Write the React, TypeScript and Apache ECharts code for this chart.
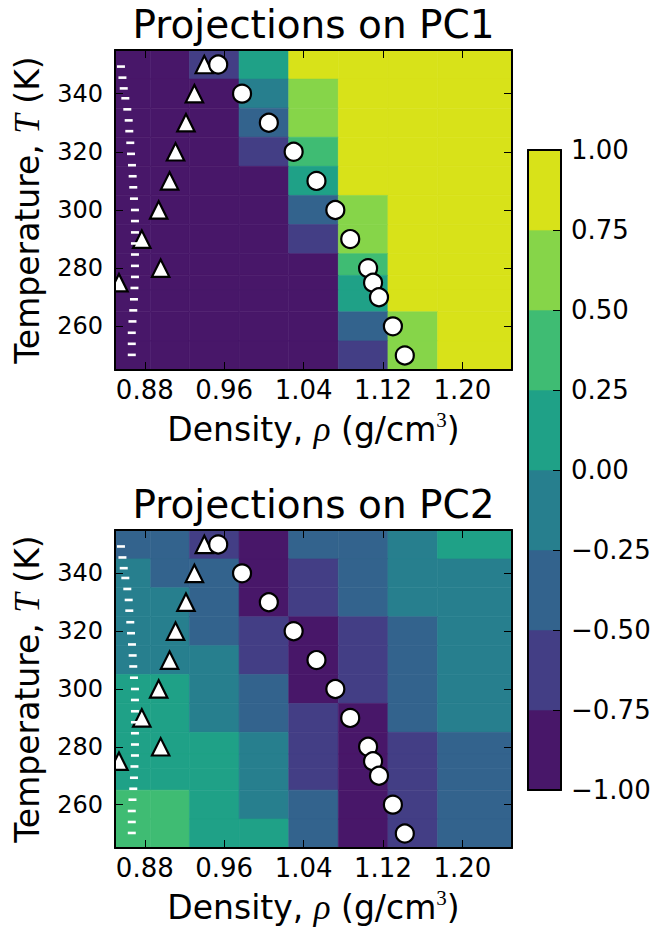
import React, { useEffect, useRef } from "react";
import * as echarts from "echarts";

// ---------- data ----------
const TEMPERATURES = [350, 340, 330, 320, 310, 300, 290, 280, 275, 270, 260, 250];
const DENSITY_EDGES = [0.85, 0.886, 0.925, 0.975, 1.025, 1.075, 1.125, 1.175, 1.25];

const PC1_VALUES = [
  [-0.88, -0.88, -0.62, 0.12, 0.88, 0.88, 0.88, 0.88],
  [-0.88, -0.88, -0.88, -0.12, 0.62, 0.88, 0.88, 0.88],
  [-0.88, -0.88, -0.88, -0.38, 0.62, 0.88, 0.88, 0.88],
  [-0.88, -0.88, -0.88, -0.62, 0.38, 0.88, 0.88, 0.88],
  [-0.88, -0.88, -0.88, -0.88, 0.12, 0.88, 0.88, 0.88],
  [-0.88, -0.88, -0.88, -0.88, -0.38, 0.62, 0.88, 0.88],
  [-0.88, -0.88, -0.88, -0.88, -0.62, 0.62, 0.88, 0.88],
  [-0.88, -0.88, -0.88, -0.88, -0.88, 0.38, 0.88, 0.88],
  [-0.88, -0.88, -0.88, -0.88, -0.88, 0.12, 0.88, 0.88],
  [-0.88, -0.88, -0.88, -0.88, -0.88, 0.12, 0.88, 0.88],
  [-0.88, -0.88, -0.88, -0.88, -0.88, -0.38, 0.62, 0.88],
  [-0.88, -0.88, -0.88, -0.88, -0.88, -0.62, 0.62, 0.88],
];

const PC2_VALUES = [
  [-0.38, -0.38, -0.62, -0.88, -0.38, -0.38, -0.12, 0.12],
  [-0.12, -0.38, -0.38, -0.88, -0.62, -0.38, -0.12, -0.12],
  [-0.12, -0.12, -0.38, -0.88, -0.62, -0.38, -0.12, -0.12],
  [-0.12, -0.12, -0.38, -0.62, -0.88, -0.62, -0.38, -0.12],
  [-0.12, -0.12, -0.12, -0.62, -0.88, -0.62, -0.38, -0.12],
  [0.12, 0.12, -0.12, -0.38, -0.88, -0.62, -0.38, -0.12],
  [0.12, 0.12, -0.12, -0.38, -0.62, -0.88, -0.38, -0.12],
  [0.12, 0.12, 0.12, -0.12, -0.62, -0.88, -0.62, -0.38],
  [0.12, 0.12, 0.12, -0.12, -0.62, -0.88, -0.62, -0.38],
  [0.12, 0.12, 0.12, -0.12, -0.62, -0.88, -0.62, -0.38],
  [0.38, 0.38, 0.12, -0.12, -0.38, -0.88, -0.62, -0.38],
  [0.38, 0.38, 0.12, 0.12, -0.38, -0.88, -0.62, -0.38],
];

const CIRCLE_T = [350, 340, 330, 320, 310, 300, 290, 280, 275, 270, 260, 250];
const CIRCLE_DENSITY = [0.954, 0.978, 1.005, 1.03, 1.053, 1.072, 1.087, 1.105, 1.11, 1.116, 1.13, 1.142];

const TRIANGLE_T = [350, 340, 330, 320, 310, 300, 290, 280, 275];
const TRIANGLE_DENSITY = [0.94, 0.93, 0.9215, 0.911, 0.905, 0.894, 0.877, 0.896, 0.854];

const DASH_T = [
  349.3, 345.5, 341.8, 338.4, 334.6, 330.8, 327.1, 323.1, 319.3, 315.4, 311.6, 307.8, 303.9, 300.0,
  296.2, 292.3, 288.5, 284.7, 280.8, 277.0, 273.2, 269.3, 265.5, 261.7, 257.8, 254.0, 250.2,
];
const DASH_DENSITY = [
  0.856, 0.8575, 0.8588, 0.8604, 0.8624, 0.8638, 0.8644, 0.8654, 0.8661, 0.8671, 0.8678, 0.8684, 0.8691,
  0.8701, 0.8701, 0.8701, 0.8701, 0.8701, 0.8701, 0.8701, 0.8696, 0.8691, 0.8684, 0.8676, 0.8669, 0.8669,
  0.8669,
];

const LEVELS = [-1, -0.75, -0.5, -0.25, 0, 0.25, 0.5, 0.75, 1];
const LEVEL_COLORS = ["#481769", "#433e85", "#33638d", "#277f8e", "#1fa187", "#3fbc73", "#86d549", "#d8e219"];

const X_TICKS = [0.88, 0.96, 1.04, 1.12, 1.2];
const Y_TICKS = [260, 280, 300, 320, 340];

// ---------- helpers ----------
const FONT = "DejaVu Sans";

function colorFor(v: number) {
  for (let i = 0; i < LEVEL_COLORS.length; i++) {
    if (v < LEVELS[i + 1]) return LEVEL_COLORS[i];
  }
  return LEVEL_COLORS[LEVEL_COLORS.length - 1];
}

function cellData(values: number[][]) {
  const out: number[][] = [];
  const n = TEMPERATURES.length;
  TEMPERATURES.forEach((t, r) => {
    const up = r === 0 ? t + (t - TEMPERATURES[1]) / 2 : (t + TEMPERATURES[r - 1]) / 2;
    const down = r === n - 1 ? t - (TEMPERATURES[n - 2] - t) / 2 : (t + TEMPERATURES[r + 1]) / 2;
    values[r].forEach((v, c) => out.push([DENSITY_EDGES[c], DENSITY_EDGES[c + 1], down, up, v]));
  });
  return out;
}

function zip(a: number[], b: number[]) {
  return a.map((v, i) => [v, b[i]]);
}

const frameLine = { show: true, onZero: false, lineStyle: { color: "#000", width: 2 } };

function tick(values: number[] | null, length = 8) {
  const t: any = { show: true, inside: true, length, lineStyle: { color: "#000", width: 1 } };
  if (values) t.customValues = values;
  return t;
}

function plotAxes(gridIndex: number) {
  const xs = [
    {
      type: "value",
      gridIndex,
      min: 0.85,
      max: 1.25,
      position: "bottom",
      z: 10,
      axisLine: frameLine,
      axisTick: tick(X_TICKS),
      axisLabel: {
        customValues: X_TICKS,
        formatter: (v: number) => v.toFixed(2),
        fontSize: 26,
        fontFamily: FONT,
        color: "#000",
        margin: 7,
      },
      splitLine: { show: false },
      name: "Density, {i|ρ} (g/cm{s|3})",
      nameLocation: "middle",
      nameGap: 39,
      nameTextStyle: {
        fontSize: 33,
        fontFamily: FONT,
        color: "#000",
        verticalAlign: "top",
        lineHeight: 40,
        rich: {
          i: { fontSize: 35, fontFamily: "Liberation Serif", fontStyle: "italic", color: "#000", lineHeight: 40 },
          s: { fontSize: 21, fontFamily: "Liberation Serif", color: "#000", verticalAlign: "top", lineHeight: 40 },
        },
      },
    },
    {
      type: "value",
      gridIndex,
      min: 0.85,
      max: 1.25,
      position: "top",
      z: 10,
      axisLine: frameLine,
      axisTick: tick(X_TICKS),
      axisLabel: { show: false },
      splitLine: { show: false },
    },
  ];
  const ys = [
    {
      type: "value",
      gridIndex,
      min: 245,
      max: 355,
      position: "left",
      z: 10,
      axisLine: frameLine,
      axisTick: tick(Y_TICKS),
      axisLabel: {
        customValues: Y_TICKS,
        fontSize: 24,
        fontFamily: FONT,
        color: "#000",
        margin: 12,
      },
      splitLine: { show: false },
      name: "Temperature, {i|T} (K)",
      nameLocation: "middle",
      nameGap: 70,
      nameTextStyle: {
        fontSize: 33,
        fontFamily: FONT,
        color: "#000",
        rich: {
          i: { fontSize: 35, fontFamily: "Liberation Serif", fontStyle: "italic", color: "#000" },
        },
      },
    },
    {
      type: "value",
      gridIndex,
      min: 245,
      max: 355,
      position: "right",
      z: 10,
      axisLine: frameLine,
      axisTick: tick(Y_TICKS),
      axisLabel: { show: false },
      splitLine: { show: false },
    },
  ];
  return { xs, ys };
}

function plotSeries(values: number[][]) {
  return [
    {
      type: "custom",
      clip: true,
      z: 1,
      silent: true,
      data: cellData(values),
      encode: { x: [0, 1], y: [2, 3] },
      renderItem: (params: any, api: any) => {
        const p0 = api.coord([api.value(0), api.value(3)]);
        const p1 = api.coord([api.value(1), api.value(2)]);
        const c = colorFor(api.value(4));
        return {
          type: "rect",
          shape: { x: p0[0], y: p0[1], width: p1[0] - p0[0], height: p1[1] - p0[1] },
          style: { fill: c, stroke: c, lineWidth: 0.6 },
        };
      },
    },
    {
      type: "custom",
      clip: true,
      z: 2,
      silent: true,
      data: zip(TRIANGLE_DENSITY, TRIANGLE_T),
      renderItem: (params: any, api: any) => {
        const p = api.coord([api.value(0), api.value(1)]);
        const h = 8.7;
        return {
          type: "polygon",
          shape: {
            points: [
              [p[0], p[1] - h],
              [p[0] - h, p[1] + h],
              [p[0] + h, p[1] + h],
            ],
          },
          style: { fill: "#fff", stroke: "#000", lineWidth: 2.2, lineJoin: "miter" },
        };
      },
    },
    {
      type: "scatter",
      z: 3,
      silent: true,
      symbol: "rect",
      symbolSize: [8, 2.6],
      itemStyle: { color: "#fff", opacity: 1 },
      data: zip(DASH_DENSITY, DASH_T),
    },
    {
      type: "scatter",
      z: 4,
      silent: true,
      symbol: "circle",
      symbolSize: 18,
      itemStyle: { color: "#fff", borderColor: "#000", borderWidth: 2.2, opacity: 1 },
      data: zip(CIRCLE_DENSITY, CIRCLE_T),
    },
  ];
}

export default function App() {
  const ref = useRef<HTMLDivElement>(null);

  useEffect(() => {
    if (!ref.current) return;
    const chart = echarts.init(ref.current, null, { renderer: "svg" });

    const a1 = plotAxes(0);
    const a2 = plotAxes(1);

    const cbX = [
      { type: "value", gridIndex: 2, min: 0, max: 1, position: "bottom", z: 10, axisLine: frameLine, axisTick: { show: false }, axisLabel: { show: false }, splitLine: { show: false } },
      { type: "value", gridIndex: 2, min: 0, max: 1, position: "top", z: 10, axisLine: frameLine, axisTick: { show: false }, axisLabel: { show: false }, splitLine: { show: false } },
    ];
    const cbY = [
      { type: "value", gridIndex: 2, min: -1, max: 1, position: "left", z: 10, axisLine: frameLine, axisTick: { show: false }, axisLabel: { show: false }, splitLine: { show: false } },
      {
        type: "value",
        gridIndex: 2,
        min: -1,
        max: 1,
        interval: 0.25,
        position: "right",
        z: 10,
        axisLine: frameLine,
        axisTick: { show: true, inside: true, length: 8, lineStyle: { color: "#000", width: 1 } },
        axisLabel: {
          formatter: (v: number) => (v < 0 ? "\u2212" : "") + Math.abs(v).toFixed(2),
          fontSize: 26,
          fontFamily: FONT,
          color: "#000",
          margin: 10,
        },
        splitLine: { show: false },
      },
    ];

    const cbData = LEVEL_COLORS.map((c, i) => [LEVELS[i], LEVELS[i + 1]]);

    const option: any = {
      animation: false,
      backgroundColor: "#fff",
      grid: [
        { left: 115, top: 50, width: 397, height: 320, containLabel: false },
        { left: 115, top: 530, width: 397, height: 320, containLabel: false },
        { left: 528, top: 150, width: 33, height: 640, containLabel: false },
      ],
      xAxis: [...a1.xs, ...a2.xs, ...cbX],
      yAxis: [...a1.ys, ...a2.ys, ...cbY],
      graphic: [
        {
          type: "text",
          x: 313.5,
          y: 24,
          style: { text: "Projections on PC1", fontSize: 39, fontFamily: FONT, fill: "#000", align: "center", verticalAlign: "middle" },
        },
        {
          type: "text",
          x: 313.5,
          y: 504,
          style: { text: "Projections on PC2", fontSize: 39, fontFamily: FONT, fill: "#000", align: "center", verticalAlign: "middle" },
        },
      ],
      series: [
        ...plotSeries(PC1_VALUES).map((s) => ({ ...s, xAxisIndex: 0, yAxisIndex: 0 })),
        ...plotSeries(PC2_VALUES).map((s) => ({ ...s, xAxisIndex: 2, yAxisIndex: 2 })),
        {
          type: "custom",
          xAxisIndex: 4,
          yAxisIndex: 5,
          z: 1,
          silent: true,
          data: cbData,
          renderItem: (params: any, api: any) => {
            const i = params.dataIndex;
            const p0 = api.coord([0, api.value(1)]);
            const p1 = api.coord([1, api.value(0)]);
            return {
              type: "rect",
              shape: { x: p0[0], y: p0[1], width: p1[0] - p0[0], height: p1[1] - p0[1] },
              style: { fill: LEVEL_COLORS[i], stroke: LEVEL_COLORS[i], lineWidth: 0.6 },
            };
          },
        },
      ],
    };

    chart.setOption(option);
    return () => chart.dispose();
  }, []);

  return (
    <div
      ref={ref}
      style={{ position: "fixed", left: 0, top: 0, width: 658, height: 928, background: "#fff" }}
    />
  );
}
